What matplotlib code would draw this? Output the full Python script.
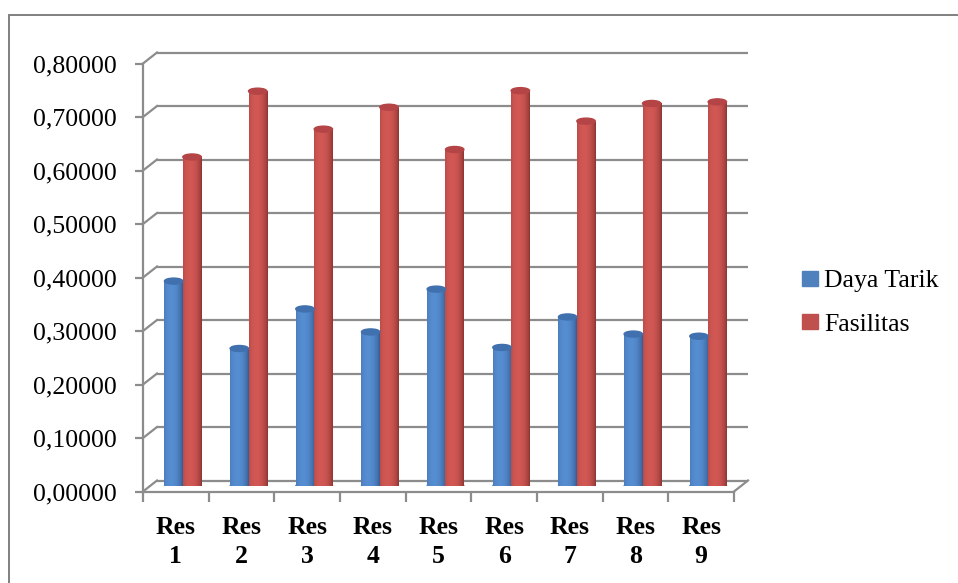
import numpy as np
import matplotlib.pyplot as plt
from matplotlib.patches import Ellipse, Rectangle, Patch
from matplotlib.lines import Line2D

plt.rcParams['font.family'] = ['Liberation Serif', 'DejaVu Serif']

categories = ["Res\n1", "Res\n2", "Res\n3", "Res\n4", "Res\n5", "Res\n6", "Res\n7", "Res\n8", "Res\n9"]
daya_tarik = [0.383, 0.257, 0.331, 0.288, 0.368, 0.259, 0.316, 0.284, 0.280]
fasilitas = [0.615, 0.738, 0.667, 0.708, 0.629, 0.739, 0.682, 0.715, 0.718]
yticks = [0.0, 0.1, 0.2, 0.3, 0.4, 0.5, 0.6, 0.7, 0.8]

W, H = 958, 583
fig = plt.figure(figsize=(W / 100, H / 100), dpi=100)

def box(left, bottom, width, height):
    # pixel box (from top-left origin) -> figure fraction
    return [left / W, (H - bottom) / H, width / W, height / H]

AW, AH = 591, 428
ax_back = fig.add_axes(box(157, 480.5, AW, AH))
ax_bar = fig.add_axes(box(150, 486, AW, AH))
ax_front = fig.add_axes(box(143, 491.5, AW, AH))

n = len(categories)
for a in (ax_back, ax_bar, ax_front):
    a.set_xlim(0, n)
    a.set_ylim(0, 0.8)
    a.patch.set_alpha(0)

grid_col = '#8c8c8c'

# back wall gridlines
ax_back.hlines(yticks, 0, n, color=grid_col, lw=1.6, clip_on=False)
ax_back.axis('off')

# side wall and floor diagonals
dx = 14 / AW * n
dy = 11 / AH * 0.8
for v in yticks:
    ax_front.add_line(Line2D([0, dx], [v, v + dy], color=grid_col, lw=1.6, clip_on=False))
ax_front.add_line(Line2D([n, n + dx], [0, dy], color=grid_col, lw=1.6, clip_on=False))

for s in ('top', 'right'):
    ax_front.spines[s].set_visible(False)
for s in ('left', 'bottom'):
    ax_front.spines[s].set_color(grid_col)
    ax_front.spines[s].set_linewidth(1.6)
ax_front.set_yticks(yticks)
ax_front.set_yticklabels([f"{v:.5f}".replace('.', ',') for v in yticks], fontsize=18.5)
ax_front.set_xticks(range(n + 1))
ax_front.set_xticklabels([])
ax_front.set_xticks(np.arange(n) + 0.5, minor=True)
ax_front.set_xticklabels(categories, minor=True, fontsize=18.5, fontweight='bold', linespacing=1.3)
ax_front.tick_params(axis='y', length=6, width=1.6, color=grid_col, pad=13)
ax_front.tick_params(axis='x', which='major', length=7, width=1.6, color=grid_col)
ax_front.tick_params(axis='x', which='minor', length=0, pad=18)

ax_bar.axis('off')


def shade(dark, light, m=64):
    t = np.linspace(0, 1, m)
    p = np.clip(1 - ((t - 0.38) / 0.62) ** 2, 0, 1) ** 0.8
    dark = np.array(dark) / 255
    light = np.array(light) / 255
    return (dark[None, :] + (light - dark)[None, :] * p[:, None])[None, :, :]


blue_img = shade((52, 90, 145), (86, 142, 210))
red_img = shade((140, 52, 50), (210, 88, 84))
blue_top = '#4070ad'
red_top = '#b44446'

bw = 0.28
eh = 6 / AH * 0.8
for i in range(n):
    for vals, img, top, off in ((daya_tarik, blue_img, blue_top, -0.14),
                                (fasilitas, red_img, red_top, 0.14)):
        xc = i + 0.5 + off
        v = vals[i]
        ax_bar.add_patch(Ellipse((xc, 0), bw, eh, color=tuple(img[0, 32]), zorder=1))
        ax_bar.imshow(img, extent=(xc - bw / 2, xc + bw / 2, 0, v), aspect='auto',
                      interpolation='bilinear', zorder=2)
        ax_bar.add_patch(Ellipse((xc, v), bw, eh, color=top, zorder=3))
ax_bar.set_xlim(0, n)
ax_bar.set_ylim(0, 0.8)

handles = [Patch(color='#4f81bd'), Patch(color='#c0504d')]
fig.legend(handles, ['Daya Tarik', 'Fasilitas'], loc='center left',
           bbox_to_anchor=(779 / W, 1 - 303 / H), frameon=False, fontsize=18.5,
           handlelength=0.6, handleheight=0.55, handletextpad=0.25, labelspacing=0.82)

fig.add_artist(Rectangle((9 / W, -0.1), 1.2, (H - 15) / H + 0.1, transform=fig.transFigure,
                         fill=False, edgecolor='#808080', lw=1.4))

fig.savefig('out.png', dpi=100)
